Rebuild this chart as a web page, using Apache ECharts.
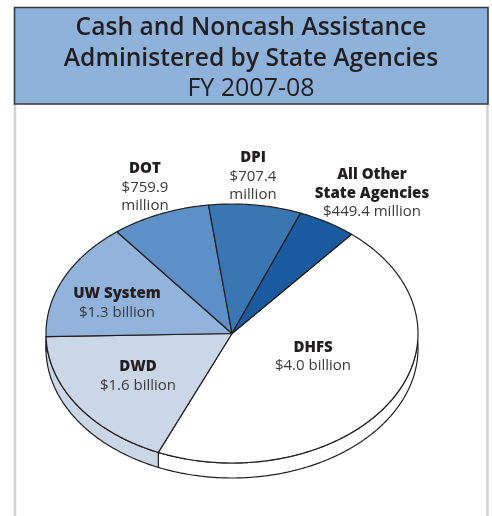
<!DOCTYPE html>
<html><head><meta charset="utf-8">
<style>html,body{margin:0;padding:0;background:#fff}#c{width:492px;height:516px}</style>
<script src="https://cdn.jsdelivr.net/npm/echarts@6/dist/echarts.min.js"></script>
</head><body><div id="c"></div>
<script>
// Data
const agencies = ['DHFS','DWD','UW System','DOT','DPI','All Other\nState Agencies'];
const amounts  = [4000,1600,1300,759.9,707.4,449.4]; // $ millions
const amountLabels = ['$4.0 billion','$1.6 billion','$1.3 billion','$759.9\nmillion','$707.4\nmillion','$449.4 million'];
const titleLines = ['Cash and Noncash Assistance','Administered by State Agencies','FY 2007-08'];

// Styles and layout
const colors = ['#ffffff','#cbd6e7','#91b3dc','#5f8fc7','#3a76b1','#1a5a9f'];
const labelCenters = [[313,356.5],[138,376],[117,303],[145,187.5],[253,176.5],[372,193.5]];
const FONT = '"Open Sans","Noto Sans",sans-serif';
const INK = '#231f20';
const cx = 232, cy = 333.5, rx = 186, ry = 129.5, depth = 15, startDeg = 40;

const total = amounts.reduce((a,b)=>a+b,0);
const startOf = i => startDeg + amounts.slice(0,i).reduce((a,b)=>a+b,0)/total*360;
const pt = (deg,dy=0) => { const r=deg*Math.PI/180; return [cx+rx*Math.sin(r), cy-ry*Math.cos(r)+dy]; };
function arc(a,b,dy=0){ const p=[]; const n=Math.max(2,Math.ceil(Math.abs(b-a)*2));
  for(let k=0;k<=n;k++) p.push(pt(a+(b-a)*k/n,dy)); return p; }
const rows = amounts.map((v,i)=>[i,v]);
// the upper and lower rims cross this many degrees past the ellipse's side points
const rimCross = Math.asin(depth/(2*ry))*180/Math.PI;

const lineStyle = {stroke:INK, lineWidth:1.2, lineJoin:'round'};
function renderWall(params){
  const i=params.dataIndex, s=startOf(i), e=startOf(i+1);
  if(e<=90 || s>=270) return {type:'group',children:[]};
  const topA=Math.max(s,90+rimCross), topB=Math.min(e,270-rimCross);
  const lowA=Math.max(s,90-rimCross), lowB=e>=270-rimCross*2?270+rimCross:e;
  const top=arc(topA,topB), low=arc(lowA,lowB,depth).reverse();
  return {type:'polygon',shape:{points:top.concat(low)},style:Object.assign({fill:colors[i]},lineStyle)};
}
function renderTop(params){
  const i=params.dataIndex;
  return {type:'polygon',shape:{points:[[cx,cy]].concat(arc(startOf(i),startOf(i+1)))},
    style:Object.assign({fill:colors[i]},lineStyle)};
}
function renderLabel(params){
  const i=params.dataIndex, names=agencies[i].split('\n'), vals=amountLabels[i].split('\n');
  const text=names.map(s=>'{b|'+s+'}').concat(vals.map(s=>'{r|'+s+'}')).join('\n');
  return {type:'text',x:labelCenters[i][0],y:labelCenters[i][1],z2:10,
    style:{text,align:'center',verticalAlign:'middle',fontFamily:FONT,
      rich:{b:{fontFamily:FONT,fontSize:15,fontWeight:800,fill:INK,lineHeight:18.5,align:'center'},
            r:{fontFamily:FONT,fontSize:15,fontWeight:400,fill:'#3b3a3b',lineHeight:18.5,align:'center'}}}};
}

const chart = echarts.init(document.getElementById('c'),null,{renderer:'canvas'});
chart.setOption({
  animation:false, backgroundColor:'#ffffff',
  title:{left:251,top:13,textAlign:'center',padding:0,itemGap:0,z:5,
    text:'{a|'+titleLines[0]+'}\n{a|'+titleLines[1]+'}\n{s|'+titleLines[2]+'}',
    textStyle:{rich:{
      a:{fontFamily:FONT,fontSize:24.6,fontWeight:600,color:INK,lineHeight:30.5},
      s:{fontFamily:FONT,fontSize:25,fontWeight:400,color:INK,lineHeight:30.5}}}},
  graphic:[
    {type:'line',z:0,shape:{x1:15,y1:104,x2:15,y2:516},style:{stroke:'#d2d2d2',lineWidth:2.5}},
    {type:'line',z:0,shape:{x1:487.5,y1:104,x2:487.5,y2:516},style:{stroke:'#d2d2d2',lineWidth:2.5}},
    {type:'rect',z:1,shape:{x:14.5,y:7.5,width:473.5,height:96.5},style:{fill:'#8fb2da',stroke:'#38383a',lineWidth:1.6}}
  ],
  series:[
    {type:'custom',coordinateSystem:'none',data:rows,renderItem:renderWall,silent:true,z:2},
    {type:'custom',coordinateSystem:'none',data:rows,renderItem:renderTop,silent:true,z:3},
    {type:'custom',coordinateSystem:'none',data:rows,renderItem:renderLabel,silent:true,z:4}
  ]
});
</script></body></html>
